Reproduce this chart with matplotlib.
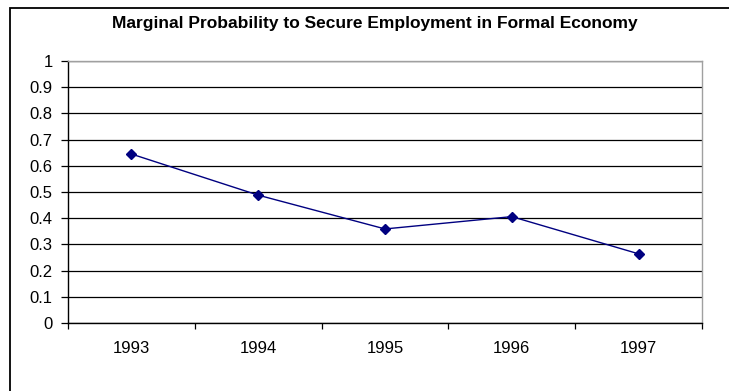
import matplotlib
matplotlib.use('Agg')
import matplotlib.pyplot as plt
from matplotlib.patches import Rectangle

plt.rcParams['font.family'] = ['Liberation Sans', 'DejaVu Sans']

years = ['1993', '1994', '1995', '1996', '1997']
prob = [0.645, 0.488, 0.359, 0.406, 0.264]

fig = plt.figure(figsize=(7.29, 3.91), dpi=100)
ax = fig.add_axes([68/729, 1-323/391, (702-68)/729, (323-61)/391])

x = range(len(years))
ax.plot(x, prob, color='#000080', lw=1, marker='D', ms=5.5,
        markerfacecolor='#000080', markeredgecolor='#000080')

ax.set_xlim(-0.5, len(years)-0.5)
ax.set_ylim(0, 1)
ax.set_yticks([i/10 for i in range(11)])
ax.set_yticklabels(['0', '0.1', '0.2', '0.3', '0.4', '0.5', '0.6', '0.7', '0.8', '0.9', '1'])
ax.yaxis.grid(True, color='black', lw=0.9)
ax.set_axisbelow(True)

# category boundaries as major ticks, labels in the middle
ax.set_xticks([i - 0.5 for i in range(len(years)+1)])
ax.set_xticklabels([])
ax.set_xticks(list(x), minor=True)
ax.set_xticklabels(years, minor=True)
ax.tick_params(axis='x', which='major', direction='out', length=4, width=0.9, color='black')
ax.tick_params(axis='x', which='minor', length=0, pad=13, labelsize=12)
ax.tick_params(axis='y', direction='out', length=5, width=0.9, labelsize=12, pad=6)

ax.spines['left'].set_color('black')
ax.spines['bottom'].set_color('black')
ax.spines['top'].set_color('#a0a0a0')
ax.spines['right'].set_color('#a0a0a0')
for s in ax.spines.values():
    s.set_linewidth(1)

fig.text(375/729, 1-28/391, 'Marginal Probability to Secure Employment in Formal Economy',
         ha='center', va='baseline', fontsize=12.5, fontweight='bold')

# outer chart frame (continues past right and bottom edges)
frame = Rectangle((9.5/729, -0.2), 1.2, 1.2 - 7.5/391,
                  transform=fig.transFigure, fill=False, edgecolor='black', lw=1.3, clip_on=False)
fig.patches.append(frame)

fig.savefig('out.png', dpi=100)
